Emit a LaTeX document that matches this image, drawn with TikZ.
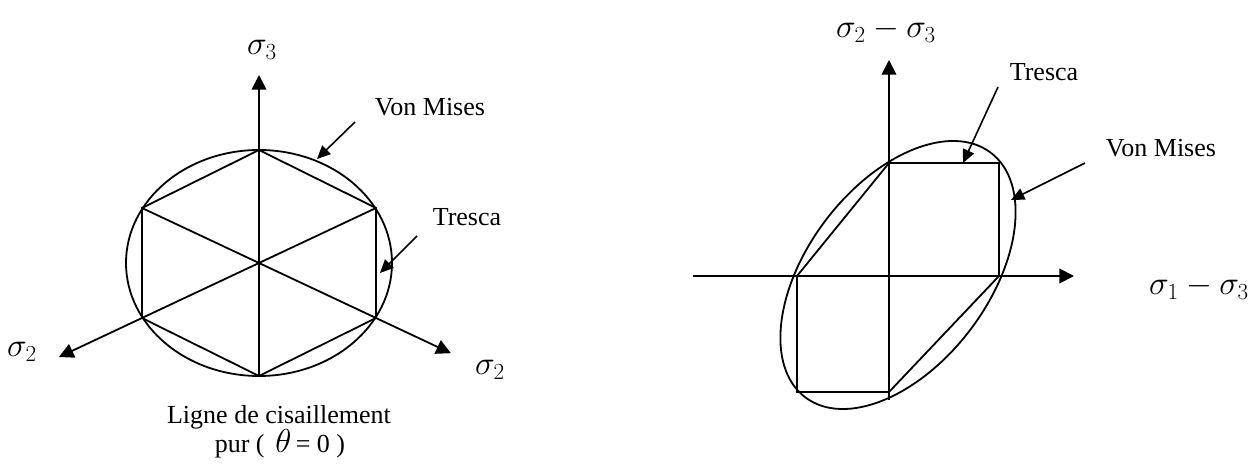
\documentclass[tikz,border=0pt]{standalone}
\usepackage{fontspec}
\setmainfont{Liberation Serif}
\usetikzlibrary{arrows.meta, positioning, calc}

\begin{document}
\begin{tikzpicture}[x=0.75pt, y=-0.75pt, line width=1.35pt,
  every node/.style={font=\fontsize{19.5}{22}\selectfont, inner sep=0pt},
  axisArrow/.style={-{Triangle[length=11pt,width=11pt]}},
  pointer/.style={-{Triangle[length=10pt,width=9pt]}, line width=1.2pt},
  sigmaLabel/.style={font=\fontsize{25}{28}\selectfont}]
\useasboundingbox (0,0) rectangle (1254,466);

% left: deviatoric plane
\coordinate (origin) at (259,263);
\coordinate (hexTop) at (259,150);
\coordinate (hexBot) at (259,376);
\coordinate (hexUL) at (142,208);
\coordinate (hexUR) at (376,208);
\coordinate (hexLL) at (142,318);
\coordinate (hexLR) at (376,318);
\coordinate (tipThree) at (259,75);
\coordinate (tipTwoLeft) at ($(hexUR)!2.71!(origin)$);
\coordinate (tipTwoRight) at ($(hexUL)!2.64!(origin)$);

\draw (origin) ellipse [x radius=133, y radius=113];
\draw (hexTop) -- (hexUR) -- (hexLR) -- (hexBot) -- (hexLL) -- (hexUL) -- cycle;
\draw[axisArrow] (hexBot) -- (tipThree);
\draw[axisArrow] (hexUR) -- (tipTwoLeft);
\draw[axisArrow] (hexUL) -- (tipTwoRight);

\node (sigThree) [sigmaLabel] at (262,50) {$\sigma_3$};
\node (sigTwoLeft) [sigmaLabel] at (22,352) {$\sigma_2$};
\node (sigTwoRight) [sigmaLabel] at (490,370) {$\sigma_2$};

\node (misesLeft) at (430,107) {Von Mises};
\node (trescaLeft) at (467,217) {Tresca};
\coordinate (misesLeftFrom) at (355,122);
\coordinate (misesLeftTo) at (317,159);
\coordinate (trescaLeftFrom) at (417,236);
\coordinate (trescaLeftTo) at (380,273);
\draw[pointer] (misesLeftFrom) -- (misesLeftTo);
\draw[pointer] (trescaLeftFrom) -- (trescaLeftTo);

\node (shearLine) at (279,417) {Ligne de cisaillement};
\node (shearTheta) at (280,444) {pur (\, {\fontsize{24}{28}\selectfont$\theta$}\,= 0 )};

% right: plane stress
\coordinate (center) at (889,276);
\coordinate (trTop) at (889,163);
\coordinate (trCorner) at (999,163);
\coordinate (trRight) at (999,276);
\coordinate (trBot) at (889,392);
\coordinate (trFar) at (797,392);
\coordinate (trLeft) at (797,276);
\coordinate (axisLeft) at (693,276);
\coordinate (axisRight) at (1074,276);
\coordinate (axisBot) at (889,400);
\coordinate (axisTop) at (889,60);

\draw[rotate around={52.8:(898,275)}] (898,275) ellipse [x radius=153.5, y radius=90.7];
\draw (trTop) -- (trCorner) -- (trRight) -- (trBot) -- (trFar) -- (trLeft) -- cycle;
\draw[axisArrow] (axisLeft) -- (axisRight);
\draw[axisArrow] (axisBot) -- (axisTop);

\node (sigDiffV) [sigmaLabel] at (886,30) {$\sigma_2 - \sigma_3$};
\node (sigDiffH) [sigmaLabel] at (1199,287) {$\sigma_1 - \sigma_3$};

\node (trescaRight) at (1044,72) {Tresca};
\node (misesRight) at (1161,148) {Von Mises};
\coordinate (trescaRightFrom) at (998,87);
\coordinate (trescaRightTo) at (963,163);
\coordinate (misesRightFrom) at (1085,163);
\coordinate (misesRightTo) at (1011,200);
\draw[pointer] (trescaRightFrom) -- (trescaRightTo);
\draw[pointer] (misesRightFrom) -- (misesRightTo);
\end{tikzpicture}
\end{document}
